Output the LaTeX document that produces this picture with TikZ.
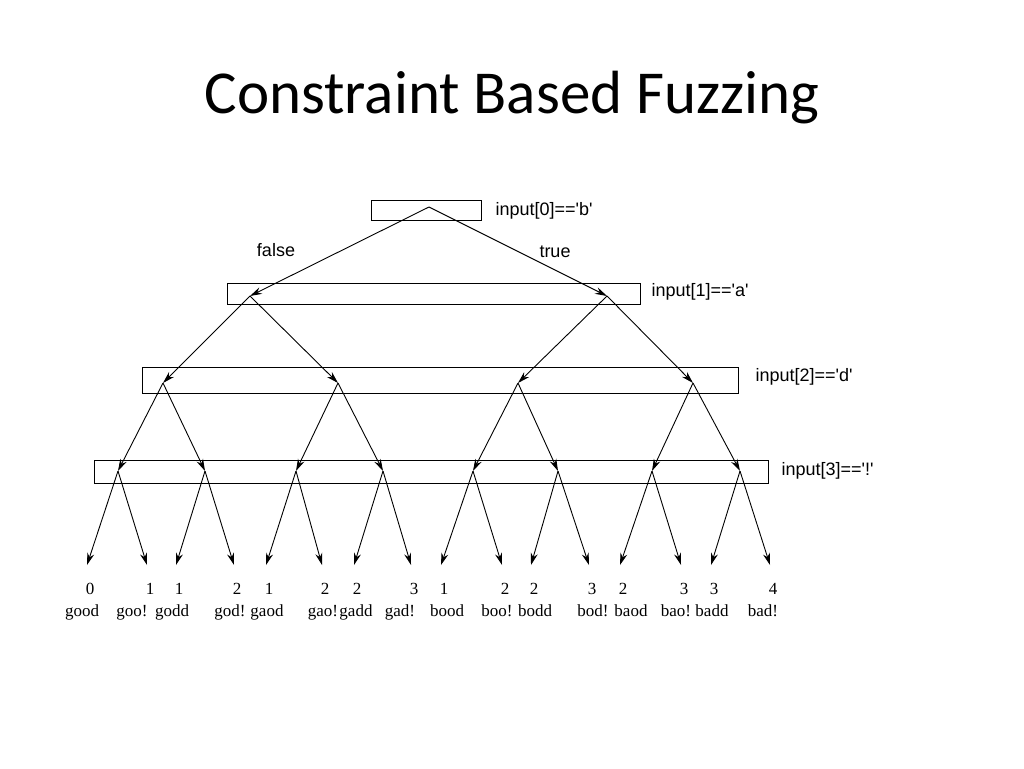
\documentclass[tikz,border=0pt]{standalone}
\usepackage{fontspec}
\setmainfont{Liberation Serif}
\newfontfamily\titlefont{Carlito}
\newfontfamily\condfont{Liberation Sans}
\usetikzlibrary{arrows.meta}
\begin{document}
\begin{tikzpicture}[x=1pt, y=-1pt,
    testbox/.style={draw, line width=1pt, inner sep=0pt, anchor=north west},
    cond/.style={anchor=west, font=\condfont\fontsize{18}{20}\selectfont},
    branch/.style={-{Stealth[length=12pt, width=7pt]}, line width=0.9pt},
    leaf/.style={font=\fontsize{17}{19}\selectfont, inner sep=0pt, anchor=base}]

    \useasboundingbox (0,0) rectangle (1024,768);
    \node[font=\titlefont\fontsize{61}{70}\selectfont] (title) at (512,98) {Constraint Based Fuzzing};

    % test boxes
    \node[testbox, minimum width=110pt, minimum height=20pt] (b0) at (371,200) {};
    \node[testbox, minimum width=413pt, minimum height=21pt] (b1) at (227,283) {};
    \node[testbox, minimum width=596pt, minimum height=26pt] (b2) at (142,367) {};
    \node[testbox, minimum width=674pt, minimum height=23pt] (b3) at (94,460) {};
    \node[cond] (c0) at (492,211) {input[0]=='b'};
    \node[cond] (c1) at (648,292) {input[1]=='a'};
    \node[cond] (c2) at (752,377) {input[2]=='d'};
    \node[cond] (c3) at (778,471) {input[3]=='!'};

    % split points
    \coordinate (p0) at (429,207);
    \foreach \x [count=\i] in {250,607} \coordinate (p1-\i) at (\x,296);
    \foreach \x [count=\i] in {163,338,518,693} \coordinate (p2-\i) at (\x,383);
    \foreach \x [count=\i] in {118,205,296,383,473,558,652,740} \coordinate (p3-\i) at (\x,471);

    \draw[branch] (p0) -- (p1-1);
    \draw[branch] (p0) -- (p1-2);
    \node[cond, anchor=center] (lf) at (276,250) {false};
    \node[cond, anchor=center] (lt) at (555,252) {true};
    \foreach \i in {1,2} {
      \pgfmathtruncatemacro\a{2*\i-1}
      \pgfmathtruncatemacro\b{2*\i}
      \draw[branch] (p1-\i) -- (p2-\a);
      \draw[branch] (p1-\i) -- (p2-\b);
    }
    \foreach \i in {1,...,4} {
      \pgfmathtruncatemacro\a{2*\i-1}
      \pgfmathtruncatemacro\b{2*\i}
      \draw[branch] (p2-\i) -- (p3-\a);
      \draw[branch] (p2-\i) -- (p3-\b);
    }

    % leaves
    \foreach \x/\n/\w/\wx [count=\k] in {87/0/good/82, 147/1/goo!/132, 176/1/godd/172, 234/2/god!/230,
        266/1/gaod/267, 322/2/gao!/323, 354/2/gadd/356, 411/3/gad!/400,
        441/1/bood/447, 502/2/boo!/497, 531/2/bodd/535, 589/3/bod!/593,
        620/2/baod/631, 681/3/bao!/676, 711/3/badd/712, 770/4/bad!/763} {
      \pgfmathtruncatemacro\j{(\k+1)/2}
      \coordinate (t\k) at (\x,565);
      \draw[branch] (p3-\j) -- (t\k);
      \node[leaf] (n\k) at (\x+3,594) {\n};
      \node[leaf] (w\k) at (\wx,616) {\w};
    }
\end{tikzpicture}
\end{document}
